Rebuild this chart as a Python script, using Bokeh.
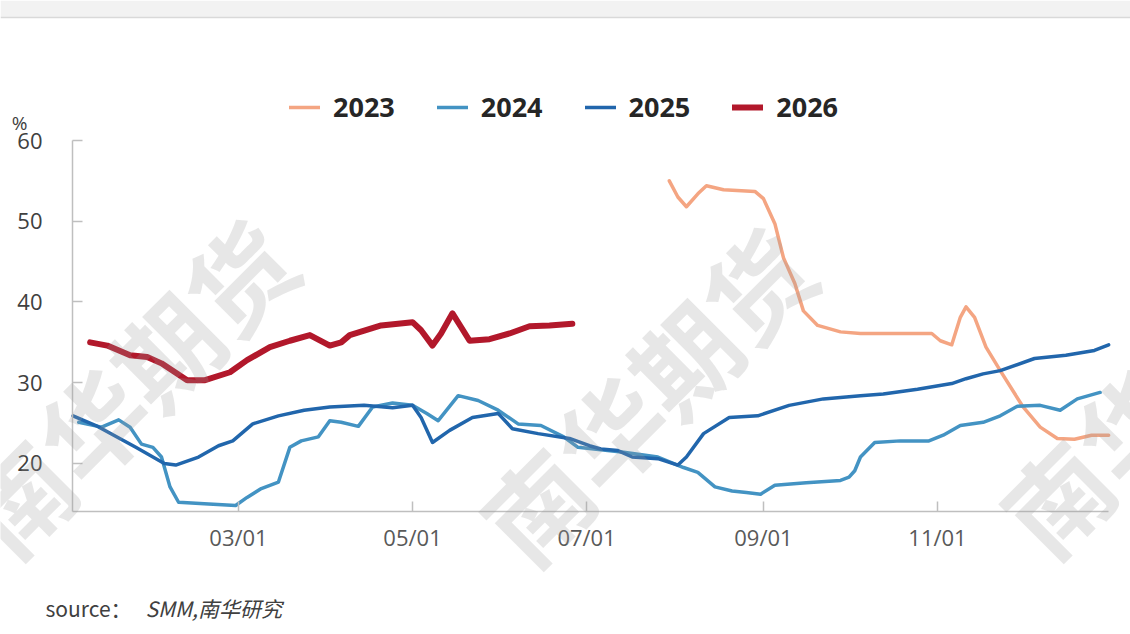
import pandas as pd
from bokeh.plotting import figure
from bokeh.models import Range1d, FixedTicker, Legend, LegendItem, Label, BoxAnnotation, Span
from bokeh.embed import file_html
from bokeh.resources import INLINE

series_names = ["2023", "2024", "2025", "2026"]
series_colors = ["#F4A582", "#4393C3", "#2166AC", "#B2182B"]
series_widths = [3.5, 3.5, 3.5, 6]

dates_2023 = ["07-30", "08-02", "08-05", "08-09", "08-12", "08-18", "08-29", "09-01", "09-05", "09-08",
              "09-12", "09-15", "09-20", "09-28", "10-05", "10-13", "10-30", "11-02", "11-06", "11-09",
              "11-11", "11-14", "11-18", "11-23", "12-01", "12-07", "12-13", "12-19", "12-25", "12-31"]
vals_2023 = [55.0, 53.0, 51.8, 53.4, 54.4, 53.9, 53.7, 52.8, 49.7, 45.5,
             42.3, 38.9, 37.1, 36.3, 36.1, 36.1, 36.1, 35.2, 34.7, 38.1,
             39.4, 38.1, 34.4, 31.5, 27.0, 24.5, 23.1, 23.0, 23.5, 23.5]

dates_2024 = ["01-04", "01-12", "01-18", "01-22", "01-26", "01-30", "02-02", "02-05", "02-08", "02-17",
              "02-28", "03-04", "03-09", "03-15", "03-19", "03-23", "03-29", "04-02", "04-06", "04-12",
              "04-17", "04-24", "05-01", "05-06", "05-10", "05-17", "05-24", "05-31", "06-07", "06-15",
              "06-23", "06-28", "07-06", "07-14", "07-26", "08-04", "08-09", "08-15", "08-21", "08-26",
              "08-31", "09-05", "09-16", "09-28", "10-01", "10-03", "10-05", "10-10", "10-19", "10-29",
              "11-03", "11-09", "11-17", "11-23", "11-29", "12-07", "12-14", "12-20", "12-28"]
vals_2024 = [25.1, 24.5, 25.4, 24.5, 22.4, 22.0, 20.8, 17.1, 15.2, 15.0,
             14.8, 15.8, 16.9, 17.7, 22.0, 22.8, 23.3, 25.3, 25.1, 24.6,
             27.0, 27.5, 27.2, 26.2, 25.3, 28.4, 27.8, 26.6, 24.9, 24.7,
             23.3, 22.0, 21.7, 21.4, 20.8, 19.5, 18.9, 17.1, 16.6, 16.4,
             16.2, 17.3, 17.6, 17.9, 18.3, 19.1, 20.8, 22.6, 22.8, 22.8,
             23.5, 24.7, 25.1, 25.9, 27.1, 27.2, 26.6, 28.0, 28.8]

dates_2025 = ["01-02", "01-10", "01-24", "02-03", "02-07", "02-15", "02-22", "02-27", "03-06", "03-15",
              "03-24", "04-02", "04-14", "04-24", "05-01", "05-04", "05-08", "05-14", "05-22", "05-31",
              "06-05", "06-14", "06-25", "07-02", "07-06", "07-12", "07-17", "07-26", "08-02", "08-05",
              "08-11", "08-20", "08-30", "09-10", "09-22", "10-05", "10-13", "10-25", "11-06", "11-11",
              "11-17", "11-23", "12-05", "12-16", "12-26", "12-31"]
vals_2025 = [25.9, 24.7, 22.0, 20.0, 19.8, 20.8, 22.2, 22.8, 24.9, 25.9,
             26.6, 27.0, 27.2, 26.9, 27.2, 25.7, 22.6, 24.1, 25.7, 26.2,
             24.3, 23.7, 23.1, 22.2, 21.8, 21.6, 20.8, 20.6, 19.8, 20.8,
             23.7, 25.7, 25.9, 27.2, 28.0, 28.4, 28.6, 29.2, 29.9, 30.5,
             31.1, 31.5, 33.0, 33.4, 34.0, 34.7]

dates_2026 = ["01-08", "01-14", "01-22", "01-28", "02-02", "02-11", "02-17", "02-26", "03-04", "03-12",
              "03-19", "03-26", "04-02", "04-06", "04-09", "04-20", "05-01", "05-04", "05-08", "05-11",
              "05-15", "05-18", "05-21", "05-28", "06-04", "06-11", "06-18", "06-26"]
vals_2026 = [35.0, 34.6, 33.4, 33.2, 32.4, 30.3, 30.3, 31.3, 32.8, 34.4,
             35.2, 35.9, 34.6, 35.0, 35.9, 37.1, 37.5, 36.5, 34.6, 36.1,
             38.6, 36.9, 35.2, 35.4, 36.1, 37.0, 37.1, 37.3]

x_tick_labels = ["03/01", "05/01", "07/01", "09/01", "11/01"]
y_ticks = [20, 30, 40, 50, 60]
watermark_text = "南华期货"
unit_text = "%"
source_prefix = "source："
source_text = "SMM,南华研究"


def day_of_year(md_list):
    d = pd.to_datetime(["2001-" + m for m in md_list])
    return [float(v) for v in d.dayofyear]


series_dates = [dates_2023, dates_2024, dates_2025, dates_2026]
series_vals = [vals_2023, vals_2024, vals_2025, vals_2026]
tick_days = day_of_year([t.replace("/", "-") for t in x_tick_labels])

# axis extents (data units) and the whole-canvas view around them
X_START, X_END = 1.82, 365.0
Y_MIN, Y_MAX = 14.06, 60.0

W, H = 1130, 634
p = figure(width=W, height=H, output_backend="svg", toolbar_location=None, title=None,
           x_range=Range1d(-23.42, 372.65), y_range=Range1d(-1.18, 77.34),
           min_border_left=0, min_border_right=0, min_border_top=0, min_border_bottom=0,
           outline_line_color=None, background_fill_color="white", border_fill_color="white")
p.xgrid.visible = False
p.ygrid.visible = False

# top band
p.add_layout(BoxAnnotation(bottom=75.23, fill_color="#F2F2F2", fill_alpha=1, line_color=None,
                           level="underlay"))
p.add_layout(Span(location=75.23, dimension="width", line_color="#D9D9D9", line_width=1.5))

for ax in (p.xaxis[0], p.yaxis[0]):
    ax.axis_line_color = "#BFBFBF"
    ax.axis_line_width = 1.5
    ax.major_tick_line_color = "#BFBFBF"
    ax.major_tick_line_width = 1.5
    ax.major_tick_in = 10
    ax.major_tick_out = 0
    ax.minor_tick_line_color = None
    ax.major_label_text_font = "Open Sans"
    ax.major_label_text_font_size = "22px"

p.yaxis.ticker = FixedTicker(ticks=y_ticks)
p.yaxis.fixed_location = X_START
p.yaxis.bounds = (Y_MIN, Y_MAX)
p.yaxis.major_label_text_color = "#404040"
p.yaxis.major_label_standoff = 30

p.xaxis.ticker = FixedTicker(ticks=tick_days)
p.xaxis.fixed_location = Y_MIN
p.xaxis.bounds = (X_START, X_END)
p.xaxis.major_label_overrides = {d: lab for d, lab in zip(tick_days, x_tick_labels)}
p.xaxis.major_label_text_color = "#595959"
p.xaxis.major_label_standoff = 11

items = []
for name, dts, vals, col, lw in zip(series_names, series_dates, series_vals, series_colors, series_widths):
    r = p.line(day_of_year(dts), vals, line_color=col, line_width=lw,
               line_join="round", line_cap="round")
    items.append(LegendItem(label=name, renderers=[r]))

legend = Legend(items=items, orientation="horizontal", location=(289, 509),
                padding=0, margin=0, border_line_alpha=0, background_fill_alpha=0,
                label_text_font="Open Sans", label_text_font_size="27px",
                label_text_font_style="bold", label_text_color="#262626",
                glyph_width=31, glyph_height=24, label_standoff=13, spacing=42)
p.add_layout(legend, "center")

# watermarks
for sx, sy in [(127, 249), (645, 241), (1165, 249)]:
    p.add_layout(Label(x=sx, y=sy, x_units="screen", y_units="screen", text=watermark_text,
                       text_font="Noto Sans CJK SC", text_font_size="104px", text_font_style="bold",
                       text_color="#999999", text_alpha=0.24, angle=45, angle_units="deg",
                       text_align="center", text_baseline="middle"))

p.add_layout(Label(x=19, y=512, x_units="screen", y_units="screen", text=unit_text,
                   text_font="Open Sans", text_font_size="19px", text_color="#404040",
                   text_align="center", text_baseline="middle"))
p.add_layout(Label(x=45, y=27, x_units="screen", y_units="screen", text=source_prefix,
                   text_font="Noto Sans CJK SC", text_font_size="21px", text_color="#404040",
                   text_align="left", text_baseline="middle"))
p.add_layout(Label(x=145, y=27, x_units="screen", y_units="screen", text=source_text,
                   text_font="Noto Sans CJK SC", text_font_size="21px", text_font_style="italic",
                   text_color="#404040", text_align="left", text_baseline="middle"))

open("out.html", "w").write(file_html(p, INLINE))
